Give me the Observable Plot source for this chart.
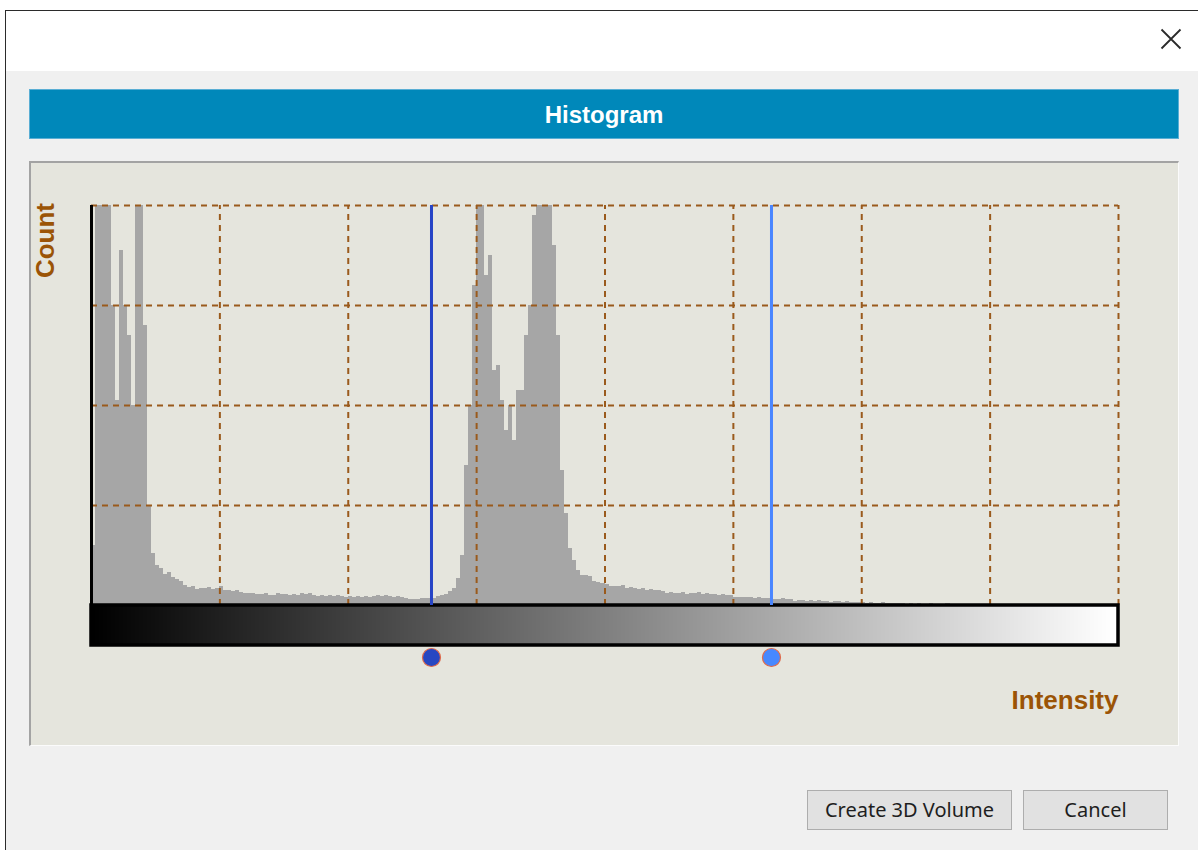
<!DOCTYPE html>
<html>
<head>
<meta charset="utf-8">
<script src="https://cdn.jsdelivr.net/npm/d3@7"></script>
<script src="https://cdn.jsdelivr.net/npm/@observablehq/plot@0.6"></script>
<style>
  html, body { margin: 0; padding: 0; background: #ffffff; width: 1198px; height: 850px; overflow: hidden; font-family: "Liberation Sans", Arial, sans-serif; }
  .abs { position: absolute; box-sizing: border-box; }
  #win { left: 5px; top: 10px; width: 1193px; height: 840px; background: #f0f0f0; border-left: 1px solid #2b2b2b; border-top: 1px solid #2b2b2b; }
  #titlebar { left: 6px; top: 11px; width: 1192px; height: 60px; background: #ffffff; }
  #close { left: 1160px; top: 28px; width: 22px; height: 22px; }
  #header { left: 29px; top: 89px; width: 1150px; height: 50px; background: #0088ba; border: 1px solid #5aaed4; color: #ffffff; font-weight: bold; font-size: 24px; text-align: center; line-height: 50px; }
  #panel { left: 29px; top: 161px; width: 1150px; height: 585px; background: #e5e5dd; border-top: 2px solid #a3a3a3; border-left: 2px solid #a3a3a3; border-right: 1px solid #fbfbfb; border-bottom: 1px solid #fbfbfb; }
  #chart { left: 29px; top: 161px; width: 1150px; height: 585px; }
  .btn { top: 790px; height: 40px; background: #e1e1e1; border: 1px solid #adadad; color: #1e1e1e; font-family: "Noto Sans", sans-serif; font-size: 20px; text-align: center; line-height: 38px; }
  #b1 { left: 807px; width: 205px; }
  #b2 { left: 1023px; width: 145px; }
</style>
</head>
<body>
<div id="win" class="abs"></div>
<div id="titlebar" class="abs"></div>
<svg id="close" class="abs" viewBox="0 0 22 22"><path d="M1.5 1.5 L20.5 20.5 M20.5 1.5 L1.5 20.5" stroke="#2a2a2a" stroke-width="1.8" fill="none"/></svg>
<div id="header" class="abs">Histogram</div>
<div id="panel" class="abs"></div>
<div id="chart" class="abs"></div>
<div id="b1" class="abs btn">Create 3D Volume</div>
<div id="b2" class="abs btn">Cancel</div>
<script>
// Histogram bins (intensity 0..255) and counts (grid unit = 100)
const intensityBins = d3.range(256);
const counts = [
  60,420,450,450,450,300,205,355,300,270,200,420,440,280,100,52,
  40,37,31,33,28,26,24,20,18,19,16,17,17,18,16,17,
  19,15,15,14,15,13,12,12,12,11,11,12,10,10,12,11,
  11,10,11,10,12,11,12,10,9,10,9,10,9,10,9,8,
  9,8,9,8,9,8,9,10,9,10,9,8,9,8,7,6,
  6,6,7,7,7,7,9,10,11,14,17,27,50,140,200,320,
  420,420,330,350,235,240,205,175,200,165,215,215,270,300,390,410,
  420,420,420,360,270,135,92,57,45,35,30,30,29,24,23,22,
  21,19,19,19,20,17,18,17,16,17,15,16,15,15,14,12,
  13,12,12,13,11,12,12,13,11,12,11,11,10,11,10,10,
  8,8,8,8,8,7,8,7,7,7,6,6,7,6,6,4,
  5,5,4,5,4,5,4,4,3,4,4,3,4,3,3,3,
  3,2,3,2,2,3,2,2,2,2,2,1,2,1,2,1,
  1,2,1,1,1,2,1,1,1,1,1,1,1,0.5,1,0.5,
  0.5,1,0.5,0.5,0.5,0.5,0.5,0.5,0.5,0.5,0.5,0.5,0.5,0.5,0.5,0.5,
  0.5,0,0,0,0,0,0,0,0,0,0,0,0,0,0,0
];
const xGridTicks = [32, 64, 96, 128, 160, 192, 224, 256];
const yGridTicks = [100, 200, 300, 400];
const thresholds = [84.75, 169.5];
const thresholdColors = ["#2644c6", "#4a86ff"];
const markerFills = ["#2747c2", "#4788ff"];

const hist = intensityBins.map((b, i) => ({bin: b, count: counts[i]}));
const brown = "#9a5a1c";
const labelColor = "#9b5406";

const chart = Plot.plot({
  width: 1150,
  height: 585,
  marginLeft: 62,
  marginRight: 61,
  marginTop: 44,
  marginBottom: 141,
  x: {domain: [0, 256], axis: null},
  y: {domain: [0, 400], axis: null},
  style: {background: "transparent", fontFamily: "Liberation Sans, Arial, sans-serif", overflow: "visible"},
  marks: [
    Plot.rect(hist, {x1: "bin", x2: d => d.bin + 1, y1: 0, y2: "count", fill: "#a6a6a6", clip: "frame", shapeRendering: "crispEdges"}),
    Plot.ruleY(yGridTicks, {x1: 0, x2: 256, stroke: brown, strokeWidth: 2, strokeDasharray: "6,5"}),
    Plot.ruleX(xGridTicks, {y1: 0, y2: 400, stroke: brown, strokeWidth: 2, strokeDasharray: "6,5"}),
    Plot.ruleX([0], {y1: 0, y2: 400, stroke: "#000000", strokeWidth: 3}),
    Plot.rect(intensityBins, {x1: d => d, x2: d => d + 1, y1: -40, y2: 0, fill: d => `rgb(${d},${d},${d})`, shapeRendering: "crispEdges"}),
    Plot.rect([0], {x1: 0, x2: 256, y1: -40, y2: 0, fill: "none", stroke: "#000000", strokeWidth: 3.5}),
    Plot.ruleX(thresholds, {y1: 0, y2: 400, stroke: (d, i) => thresholdColors[i], strokeWidth: 3}),
    Plot.dot(thresholds, {x: d => d, y: -52, r: 9, fill: (d, i) => markerFills[i], stroke: "#e06a4a", strokeWidth: 1.2}),
    Plot.text(["Count"], {frameAnchor: "top-left", dx: -56, dy: 35, rotate: -90, text: d => d, fill: labelColor, fontWeight: "bold", fontSize: 26, textAnchor: "middle"}),
    Plot.text(["Intensity"], {frameAnchor: "bottom-right", dx: 0, dy: 103, text: d => d, fill: labelColor, fontWeight: "bold", fontSize: 26, textAnchor: "end"})
  ]
});
document.getElementById("chart").appendChild(chart);
</script>
</body>
</html>
